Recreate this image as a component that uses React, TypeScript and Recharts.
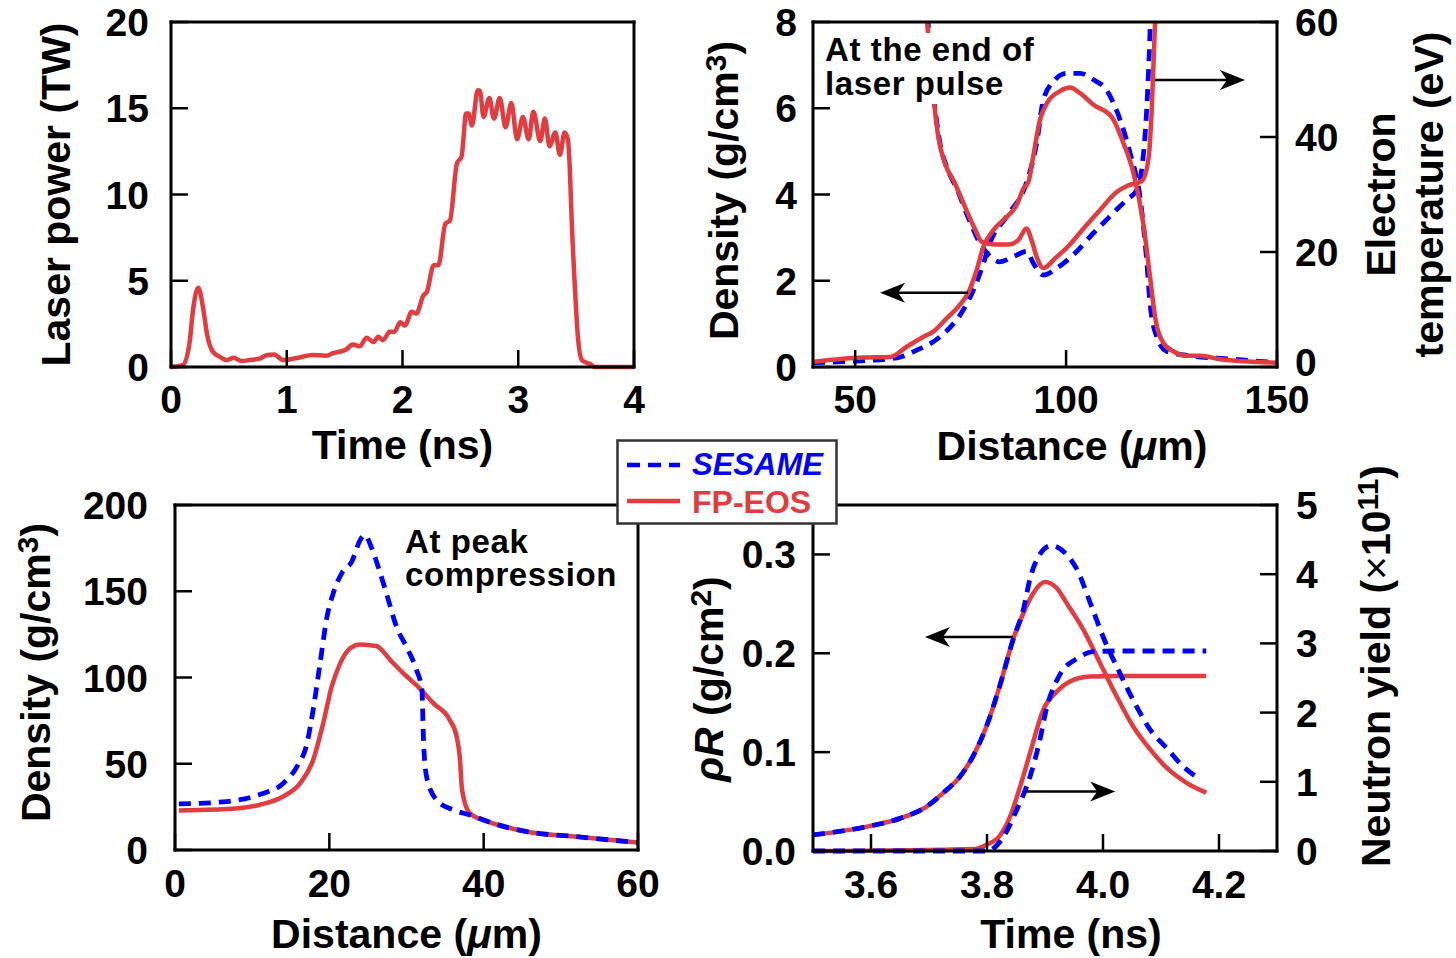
import React from 'react';
import { LineChart, Line, XAxis, YAxis, ReferenceLine } from 'recharts';

// ---- panel (a): laser pulse ----
const laserTime = [0, 0.1, 0.16, 0.19, 0.236, 0.28, 0.31, 0.36, 0.42, 0.48, 0.54, 0.61, 0.68, 0.77, 0.83, 0.89, 0.97, 1.1, 1.22, 1.34, 1.4, 1.51, 1.57, 1.63, 1.69, 1.75, 1.79, 1.83, 1.89, 1.93, 1.98, 2.02, 2.08, 2.12, 2.18, 2.21, 2.27, 2.31, 2.37, 2.41, 2.47, 2.51, 2.55, 2.57, 2.6, 2.65, 2.67, 2.7, 2.75, 2.79, 2.84, 2.89, 2.94, 2.99, 3.04, 3.09, 3.13, 3.19, 3.23, 3.27, 3.32, 3.36, 3.4, 3.43, 3.47, 3.52, 3.55, 3.62, 3.66, 4.0];
const laserPower = [0, 0.1, 1.4, 3.3, 4.6, 3.3, 1.95, 0.9, 0.6, 0.4, 0.54, 0.35, 0.4, 0.5, 0.7, 0.73, 0.4, 0.54, 0.7, 0.65, 0.8, 1.0, 1.3, 1.2, 1.7, 1.45, 1.75, 1.55, 2.04, 2.04, 2.6, 2.4, 3.2, 3.1, 4.15, 4.35, 5.9, 5.9, 8.3, 8.5, 11.8, 12.2, 14.7, 14.7, 14.0, 16.05, 16.0, 14.5, 15.6, 14.4, 15.6, 13.9, 15.3, 13.2, 14.5, 13.2, 14.8, 13.1, 14.4, 12.8, 13.6, 12.3, 13.6, 13.15, 7.2, 1.4, 0.4, 0.17, 0, 0];

// ---- panel (b): end of laser pulse ----
const densRedX = [40, 52, 58.3, 62.2, 66.2, 68.5, 71.7, 74.8, 76.8, 78.8, 80.4, 82.8, 85.1, 88.3, 89.9, 91.1, 92.2, 93.8, 95.4, 98.6, 100.9, 103.3, 106.5, 110.8, 113.6, 116, 118.3, 119.9, 121.1, 123.1, 125.5, 128.6, 131.8, 136.5, 150];
const densRedY = [0.12, 0.22, 0.23, 0.47, 0.7, 0.82, 1.13, 1.44, 1.72, 2.25, 2.79, 3.18, 3.41, 3.76, 4.14, 4.3, 4.88, 5.73, 6.11, 6.4, 6.48, 6.35, 6.08, 5.8, 5.19, 4.49, 3.33, 2.09, 1.16, 0.55, 0.36, 0.26, 0.26, 0.18, 0.1];
const densBlueX = [40, 52.7, 58.3, 60.6, 64.6, 70.1, 75.6, 78, 80.4, 81.9, 85.9, 90.7, 93, 94.6, 97, 100.1, 103.3, 106.5, 109.6, 112.8, 115.2, 117.5, 119.1, 119.9, 121.5, 123.9, 127.8, 139.7, 150];
const densBlueY = [0.1, 0.15, 0.19, 0.23, 0.39, 0.7, 1.32, 1.78, 2.4, 2.87, 3.49, 4.3, 5.18, 6.19, 6.62, 6.81, 6.81, 6.66, 6.42, 5.73, 4.95, 3.95, 2.48, 1.47, 0.7, 0.36, 0.28, 0.18, 0.1];
const tempRedX = [66, 67.3, 68.5, 69.7, 71.3, 73.6, 76, 78.4, 80, 83.1, 86.3, 88.7, 90.6, 91.8, 93, 94.6, 97.4, 100.5, 104.5, 108.4, 111.6, 114.8, 117.9, 119.5, 120.3, 120.9, 121.5];
const tempRedY = [68, 58, 47.6, 40, 35.4, 32, 27.9, 24, 21.8, 21.3, 21.3, 22.1, 24.1, 22.1, 19.2, 17.2, 18.9, 21, 24.4, 27.6, 30.2, 31.6, 32.3, 36, 44.7, 56.3, 68];
const tempBlueX = [66.5, 67.3, 68.5, 70.1, 71.7, 74.1, 76.4, 79.6, 82, 84.3, 87.5, 90.7, 92.2, 94.6, 97.8, 101.7, 106.5, 110.4, 114.4, 116.8, 118, 119.1, 119.8, 120.3];
const tempBlueY = [68, 59.8, 48.2, 38.9, 34.8, 31, 26.7, 21.5, 19.2, 18.3, 19.2, 20.1, 18.1, 16, 17.2, 19.5, 23.3, 26.2, 29.1, 30.8, 34.8, 44.7, 56.3, 68];

// ---- panel (c): peak compression ----
const peakBlueX = [0.5, 6.7, 11, 14, 15.8, 17.1, 17.9, 18.8, 19.7, 20.5, 21.6, 22.9, 24, 24.6, 25.5, 26.6, 27.4, 28.7, 30.2, 31.3, 32, 32.2, 32.6, 33.9, 36.1, 38.2, 41.2, 45.6, 52.1, 60];
const peakBlueY = [26.7, 28.1, 32.2, 38.6, 48.3, 61.8, 81.2, 108.2, 135.3, 148.8, 160.4, 167.1, 179.7, 182.6, 174.9, 160.4, 148.8, 129.5, 116, 104.3, 92.75, 63.8, 42.5, 29, 23.2, 20.3, 15.5, 10.6, 7.7, 4.3];
const peakRedX = [0.5, 6.7, 11, 14, 16.2, 17.9, 19.2, 20.3, 21.4, 22.7, 24, 26.1, 27.9, 29.6, 31.7, 33.5, 35.6, 36.5, 36.9, 37.2, 38.2, 41.2, 45.6, 52.1, 60];
const peakRedY = [22.9, 23.7, 26.2, 31, 38.6, 52.2, 73.4, 94.7, 108.2, 116.9, 119.2, 118.3, 110.1, 102.4, 93.7, 85, 75.4, 65.7, 54.1, 34.8, 21.3, 15.5, 10.6, 7.7, 4.3];

// ---- panel (d): areal density and yield ----
const rhoRRedT = [3.5, 3.593, 3.65, 3.696, 3.725, 3.753, 3.776, 3.799, 3.822, 3.845, 3.863, 3.88, 3.9, 3.92, 3.937, 3.966, 3.995, 4.023, 4.052, 4.081, 4.11, 4.144, 4.178];
const rhoRRed = [0.0162, 0.0247, 0.033, 0.045, 0.059, 0.075, 0.096, 0.126, 0.167, 0.214, 0.241, 0.261, 0.272, 0.266, 0.251, 0.224, 0.19, 0.157, 0.126, 0.103, 0.084, 0.069, 0.059];
const rhoRBlueT = [3.5, 3.593, 3.65, 3.696, 3.725, 3.753, 3.776, 3.799, 3.822, 3.845, 3.863, 3.874, 3.891, 3.911, 3.937, 3.955, 3.978, 4.0, 4.029, 4.058, 4.081, 4.11, 4.139, 4.164];
const rhoRBlue = [0.0162, 0.0247, 0.033, 0.045, 0.059, 0.075, 0.096, 0.126, 0.167, 0.214, 0.245, 0.275, 0.3, 0.309, 0.3, 0.285, 0.251, 0.217, 0.18, 0.146, 0.123, 0.104, 0.085, 0.074];
const yieldRedT = [3.5, 3.78, 3.799, 3.822, 3.84, 3.857, 3.874, 3.897, 3.92, 3.943, 3.978, 4.023, 4.178];
const yieldRed = [0, 0.03, 0.09, 0.22, 0.5, 0.93, 1.41, 2.04, 2.3, 2.45, 2.52, 2.53, 2.53];
const yieldBlueT = [3.5, 3.8, 3.828, 3.851, 3.874, 3.891, 3.902, 3.925, 3.955, 3.983, 4.023, 4.178];
const yieldBlue = [0, 0, 0.2, 0.59, 1.07, 1.6, 2.04, 2.54, 2.78, 2.88, 2.89, 2.89];

const FONT = '"Liberation Sans", Arial, Helvetica, sans-serif';
const RED = '#e23c41';
const BLUE = '#0000ff';
const DASH = '12 8';
const RED_W = 4.5;
const BLUE_W = 4.8;
const W = 1456;
const H = 958;
const TICK_LEN = 17;
const TICK_FS = 39;
const TITLE_FS = 41;

type Pt = { x: number; y: number };
const zip = (xs: number[], ys: number[]): Pt[] => xs.map((x, i) => ({ x, y: ys[i] }));

const axisLine = { stroke: '#000', strokeWidth: 3, strokeLinecap: 'square' as const };
const txt = { fontFamily: FONT, fontWeight: 700, fill: '#000' };

type Side = 'bottom' | 'top' | 'left' | 'right';

// inward tick marks, labels outside the frame
function makeTick(side: Side, gap = 0, fmt?: (v: number) => string, lift?: (v: number) => number) {
  return (props: any) => {
    const { x, y, payload } = props;
    const v = payload.value as number;
    const s = fmt ? fmt(v) : String(v);
    const up = lift ? lift(v) : 0;
    const ln = { stroke: '#000', strokeWidth: 2.5 };
    let line = null;
    let label = null;
    if (side === 'bottom') {
      line = <line {...ln} x1={x} y1={y} x2={x} y2={y - TICK_LEN} />;
      if (gap) label = <text {...txt} fontSize={TICK_FS} x={x} y={y + gap} textAnchor="middle">{s}</text>;
    } else if (side === 'top') {
      line = <line {...ln} x1={x} y1={y} x2={x} y2={y + TICK_LEN} />;
    } else if (side === 'left') {
      line = <line {...ln} x1={x} y1={y} x2={x + TICK_LEN} y2={y} />;
      if (gap) label = <text {...txt} fontSize={TICK_FS} x={x - gap} y={y + 14 - up} textAnchor="end">{s}</text>;
    } else {
      line = <line {...ln} x1={x} y1={y} x2={x - TICK_LEN} y2={y} />;
      if (gap) label = <text {...txt} fontSize={TICK_FS} x={x + gap} y={y + 14 - up} textAnchor="start">{s}</text>;
    }
    return <g>{line}{label}</g>;
  };
}

// vertical axis title; dx measured from the plot edge
function vTitle(lines: { body: React.ReactNode; dx: number }[], dy: number, right = false) {
  return (p: any) => {
    const vb = p.viewBox;
    const edge = right ? vb.x : vb.x + vb.width;
    const cy = vb.y + vb.height / 2 + dy;
    return (
      <g>
        {lines.map((l, i) => (
          <text key={i} {...txt} fontSize={TITLE_FS} x={edge + l.dx} y={cy} textAnchor="middle"
            transform={`rotate(-90 ${edge + l.dx} ${cy})`}>{l.body}</text>
        ))}
      </g>
    );
  };
}

function hTitle(body: React.ReactNode, dx: number, dy: number) {
  return (p: any) => {
    const vb = p.viewBox;
    return <text {...txt} fontSize={TITLE_FS} x={vb.x + vb.width / 2 + dx} y={vb.y + dy} textAnchor="middle">{body}</text>;
  };
}

const arrowShape = (props: any) => {
  const { x1, y1, x2, y2 } = props;
  const a = Math.atan2(y2 - y1, x2 - x1);
  const ux = Math.cos(a), uy = Math.sin(a);
  const L = 25, hw = 10, notch = 7;
  const bx = x2 - ux * L, by = y2 - uy * L;
  const nx = x2 - ux * (L - notch), ny = y2 - uy * (L - notch);
  const pts = [
    [x2, y2], [bx - uy * hw, by + ux * hw], [nx, ny], [bx + uy * hw, by - ux * hw],
  ].map((q) => q.join(',')).join(' ');
  return (
    <g>
      <line x1={x1} y1={y1} x2={nx} y2={ny} stroke="#000" strokeWidth={2.5} />
      <polygon points={pts} fill="#000" />
    </g>
  );
};

const sup = (s: string) => (
  <>
    <tspan fontSize={30} dy={-12}>{s}</tspan>
    <tspan dy={12}>)</tspan>
  </>
);

const abs: React.CSSProperties = { position: 'absolute', left: 0, top: 0 };
const f1 = (v: number) => v.toFixed(1);

function LaserPanel() {
  return (
    <div style={abs}>
      <LineChart width={W} height={H} margin={{ top: 12, right: 762, bottom: 561, left: 111 }}>
        <XAxis dataKey="x" type="number" domain={[0, 4]} ticks={[0, 1, 2, 3, 4]} interval={0} height={30}
          axisLine={axisLine} tickLine={false} tickSize={0} tickMargin={0} tick={makeTick('bottom', 46)}
          label={hTitle('Time (ns)', 0, 92)} />
        <XAxis xAxisId="t" orientation="top" type="number" domain={[0, 4]} ticks={[1, 2, 3]} interval={0} height={10}
          axisLine={axisLine} tickLine={false} tickSize={0} tickMargin={0} tick={makeTick('top')} />
        <YAxis type="number" domain={[0, 20]} ticks={[0, 5, 10, 15, 20]} interval={0} width={60}
          axisLine={axisLine} tickLine={false} tickSize={0} tickMargin={0} tick={makeTick('left', 22)}
          label={vTitle([{ body: 'Laser power (TW)', dx: -101 }], 0)} />
        <YAxis yAxisId="r" orientation="right" type="number" domain={[0, 20]} ticks={[5, 10, 15]} interval={0} width={60}
          axisLine={axisLine} tickLine={false} tickSize={0} tickMargin={0} tick={makeTick('right')} />
        <Line data={zip(laserTime, laserPower)} dataKey="y" type="monotone" stroke={RED} strokeWidth={RED_W}
          dot={false} isAnimationActive={false} />
      </LineChart>
    </div>
  );
}

function PulseEndPanel() {
  return (
    <div style={abs}>
      <LineChart width={W} height={H} margin={{ top: 12, right: 119, bottom: 561, left: 753 }}>
        <XAxis dataKey="x" type="number" domain={[40, 150]} ticks={[50, 100, 150]} interval={0} height={30}
          allowDataOverflow axisLine={axisLine} tickLine={false} tickSize={0} tickMargin={0} tick={makeTick('bottom', 46)}
          label={hTitle(<>Distance (<tspan fontStyle="italic">μ</tspan>m)</>, 27, 93)} />
        <XAxis xAxisId="t" orientation="top" type="number" domain={[40, 150]} ticks={[50, 100]} interval={0} height={10}
          axisLine={axisLine} tickLine={false} tickSize={0} tickMargin={0} tick={makeTick('top')} />
        <YAxis type="number" domain={[0, 8]} ticks={[0, 2, 4, 6, 8]} interval={0} width={60} allowDataOverflow
          axisLine={axisLine} tickLine={false} tickSize={0} tickMargin={0} tick={makeTick('left', 16)}
          label={vTitle([{ body: <>Density (g/cm{sup('3')}</>, dx: -75 }], -4)} />
        <YAxis yAxisId="r" orientation="right" type="number" domain={[0, 60]} ticks={[0, 20, 40, 60]} interval={0} width={60}
          allowDataOverflow axisLine={axisLine} tickLine={false} tickSize={0} tickMargin={0}
          tick={makeTick('right', 18, undefined, (v) => (v === 0 ? 5 : 0))}
          label={vTitle([{ body: 'Electron', dx: 118 }, { body: 'temperature (eV)', dx: 166 }], 0, true)} />
        <Line data={zip(densBlueX, densBlueY)} dataKey="y" type="monotone" stroke={BLUE} strokeWidth={BLUE_W}
          strokeDasharray={DASH} dot={false} isAnimationActive={false} />
        <Line yAxisId="r" data={zip(tempBlueX, tempBlueY)} dataKey="y" type="monotone" stroke={BLUE} strokeWidth={BLUE_W}
          strokeDasharray={DASH} dot={false} isAnimationActive={false} />
        <Line data={zip(densRedX, densRedY)} dataKey="y" type="monotone" stroke={RED} strokeWidth={RED_W}
          dot={false} isAnimationActive={false} />
        <Line yAxisId="r" data={zip(tempRedX, tempRedY)} dataKey="y" type="monotone" stroke={RED} strokeWidth={RED_W}
          dot={false} isAnimationActive={false} />
        <ReferenceLine segment={[{ x: 76.7, y: 1.72 }, { x: 55.9, y: 1.72 }]} shape={arrowShape} />
        <ReferenceLine segment={[{ x: 121.1, y: 6.655 }, { x: 142.4, y: 6.655 }]} shape={arrowShape} />
      </LineChart>
    </div>
  );
}

function PeakPanel() {
  return (
    <div style={abs}>
      <LineChart width={W} height={H} margin={{ top: 495, right: 758, bottom: 78, left: 115 }}>
        <XAxis dataKey="x" type="number" domain={[0, 60]} ticks={[0, 20, 40, 60]} interval={0} height={30}
          axisLine={axisLine} tickLine={false} tickSize={0} tickMargin={0} tick={makeTick('bottom', 47)}
          label={hTitle(<>Distance (<tspan fontStyle="italic">μ</tspan>m)</>, 0, 98)} />
        <XAxis xAxisId="t" orientation="top" type="number" domain={[0, 60]} ticks={[20, 40]} interval={0} height={10}
          axisLine={axisLine} tickLine={false} tickSize={0} tickMargin={0} tick={makeTick('top')} />
        <YAxis type="number" domain={[0, 200]} ticks={[0, 50, 100, 150, 200]} interval={0} width={60}
          axisLine={axisLine} tickLine={false} tickSize={0} tickMargin={0} tick={makeTick('left', 27)}
          label={vTitle([{ body: <>Density (g/cm{sup('3')}</>, dx: -125 }], -5)} />
        <YAxis yAxisId="r" orientation="right" type="number" domain={[0, 200]} ticks={[50, 100, 150]} interval={0} width={60}
          axisLine={axisLine} tickLine={false} tickSize={0} tickMargin={0} tick={makeTick('right')} />
        <Line data={zip(peakRedX, peakRedY)} dataKey="y" type="monotone" stroke={RED} strokeWidth={RED_W}
          dot={false} isAnimationActive={false} />
        <Line data={zip(peakBlueX, peakBlueY)} dataKey="y" type="monotone" stroke={BLUE} strokeWidth={BLUE_W}
          strokeDasharray={DASH} dot={false} isAnimationActive={false} />
      </LineChart>
    </div>
  );
}

function YieldPanel() {
  return (
    <div style={abs}>
      <LineChart width={W} height={H} margin={{ top: 495, right: 119, bottom: 77, left: 753 }}>
        <XAxis dataKey="x" type="number" domain={[3.5, 4.3]} ticks={[3.6, 3.8, 4.0, 4.2]} interval={0} height={30}
          axisLine={axisLine} tickLine={false} tickSize={0} tickMargin={0} tick={makeTick('bottom', 47, f1)}
          label={hTitle('Time (ns)', 26, 97)} />
        <XAxis xAxisId="t" orientation="top" type="number" domain={[3.5, 4.3]} ticks={[3.6, 3.8, 4.0, 4.2]} interval={0} height={10}
          axisLine={axisLine} tickLine={false} tickSize={0} tickMargin={0} tick={makeTick('top')} />
        <YAxis type="number" domain={[0, 0.35]} ticks={[0, 0.1, 0.2, 0.3]} interval={0} width={60}
          axisLine={axisLine} tickLine={false} tickSize={0} tickMargin={0} tick={makeTick('left', 17, f1)}
          label={vTitle([{ body: <><tspan fontStyle="italic">ρR</tspan> (g/cm{sup('2')}</>, dx: -90 }], 1)} />
        <YAxis yAxisId="r" orientation="right" type="number" domain={[0, 5]} ticks={[0, 1, 2, 3, 4, 5]} interval={0} width={60}
          axisLine={axisLine} tickLine={false} tickSize={0} tickMargin={0} tick={makeTick('right', 19)}
          label={vTitle([{ body: <>Neutron yield (<tspan fontWeight={400}>×</tspan>10<tspan fontSize={30} dy={-12}>11</tspan><tspan dy={12}>)</tspan></>, dx: 113 }], -12, true)} />
        <Line data={zip(rhoRRedT, rhoRRed)} dataKey="y" type="monotone" stroke={RED} strokeWidth={RED_W}
          dot={false} isAnimationActive={false} />
        <Line yAxisId="r" data={zip(yieldRedT, yieldRed)} dataKey="y" type="monotone" stroke={RED} strokeWidth={RED_W}
          dot={false} isAnimationActive={false} />
        <Line data={zip(rhoRBlueT, rhoRBlue)} dataKey="y" type="monotone" stroke={BLUE} strokeWidth={BLUE_W}
          strokeDasharray={DASH} dot={false} isAnimationActive={false} />
        <Line yAxisId="r" data={zip(yieldBlueT, yieldBlue)} dataKey="y" type="monotone" stroke={BLUE} strokeWidth={BLUE_W}
          strokeDasharray={DASH} dot={false} isAnimationActive={false} />
        <ReferenceLine segment={[{ x: 3.845, y: 0.2164 }, { x: 3.693, y: 0.2164 }]} shape={arrowShape} />
        <ReferenceLine segment={[{ x: 3.868, y: 0.0602 }, { x: 4.021, y: 0.0602 }]} shape={arrowShape} />
      </LineChart>
    </div>
  );
}

const noteStyle: React.CSSProperties = {
  position: 'absolute', background: '#fff', fontFamily: FONT, fontWeight: 700, fontSize: 33,
  letterSpacing: '0.6px', color: '#000', paddingLeft: 5, boxSizing: 'border-box', whiteSpace: 'nowrap',
};

function Legend() {
  return (
    <svg width={222} height={86} style={{ position: 'absolute', left: 616, top: 439 }}>
      <rect x={1.5} y={1.5} width={219} height={83} fill="#fff" stroke="#333" strokeWidth={2.5} />
      <line x1={11} y1={26} x2={64} y2={26} stroke={BLUE} strokeWidth={4.5} strokeDasharray="13 8" />
      <line x1={11} y1={62} x2={64} y2={62} stroke={RED} strokeWidth={4.5} />
      <text x={76} y={36} fontFamily={FONT} fontWeight={700} fontStyle="italic" fontSize={31} fill={BLUE}>SESAME</text>
      <text x={76} y={74} fontFamily={FONT} fontWeight={700} fontSize={32} fill={RED}>FP-EOS</text>
    </svg>
  );
}

export default function App() {
  return (
    <div style={{ position: 'absolute', left: 0, top: 0, width: W, height: H, background: '#fff', overflow: 'hidden' }}>
      <LaserPanel />
      <PulseEndPanel />
      <PeakPanel />
      <YieldPanel />
      <div style={{ ...noteStyle, left: 820, top: 33, width: 222, height: 71, lineHeight: '34.3px' }}>
        At the end of<br />laser pulse
      </div>
      <div style={{ ...noteStyle, left: 400, top: 525, width: 233, height: 70, lineHeight: '33.4px' }}>
        At peak<br />compression
      </div>
      <Legend />
    </div>
  );
}
